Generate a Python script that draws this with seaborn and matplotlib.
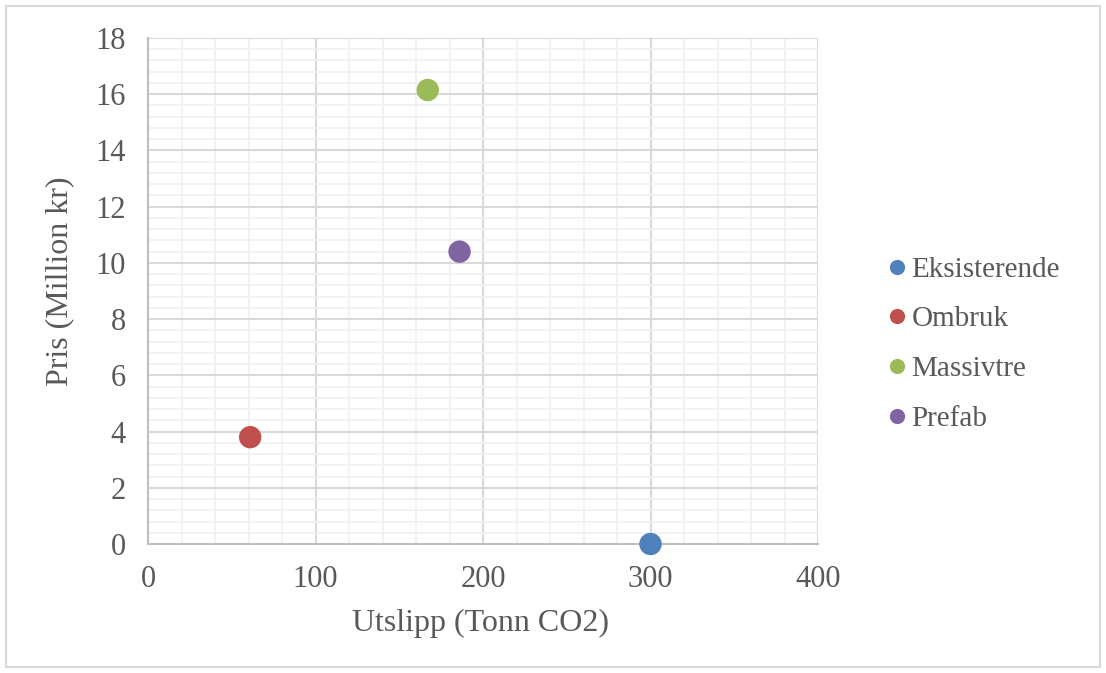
import pandas as pd
import numpy as np
import matplotlib
matplotlib.use("Agg")
import matplotlib.pyplot as plt
from matplotlib.patches import Rectangle
from matplotlib.ticker import MultipleLocator
import seaborn as sns

# %%
# data
serier = ["Eksisterende", "Ombruk", "Massivtre", "Prefab"]
utslipp = [300, 61, 167, 186]        # Tonn CO2
pris = [0.0, 3.8, 16.15, 10.4]       # Million kr
farger = ["#4F81BD", "#C0504D", "#9BBB59", "#8064A2"]

df = pd.DataFrame({"serie": serier, "utslipp": utslipp, "pris": pris})

# %%
sns.set_style("white")
plt.rcParams["font.family"] = ["Liberation Serif", "DejaVu Serif"]
tekst = "#595959"

fig = plt.figure(figsize = (11.06, 6.73), dpi = 100)
ax = fig.add_axes([148 / 1106, 1 - 544 / 673, 670 / 1106, 506 / 673])

# outer chart border
fig.patches.append(Rectangle((6 / 1106, 6 / 673), 1094 / 1106, 661 / 673,
                             transform = fig.transFigure, fill = False,
                             edgecolor = "#D9D9D9", linewidth = 1.5))

sns.scatterplot(data = df, x = "utslipp", y = "pris", hue = "serie",
                hue_order = serier, palette = farger, s = 260,
                edgecolor = "none", ax = ax, zorder = 3, clip_on = False)

ax.set_xlim(0, 400)
ax.set_ylim(0, 18)
ax.xaxis.set_major_locator(MultipleLocator(100))
ax.xaxis.set_minor_locator(MultipleLocator(20))
ax.yaxis.set_major_locator(MultipleLocator(2))
ax.yaxis.set_minor_locator(MultipleLocator(0.4))
ax.grid(which = "major", color = "#D9D9D9", linewidth = 1.5)
ax.grid(which = "minor", color = "#F0F0F0", linewidth = 1.2)
ax.set_axisbelow(True)

for side in ["top", "right"]:
    ax.spines[side].set_visible(False)
for side in ["left", "bottom"]:
    ax.spines[side].set_color("#BFBFBF")
    ax.spines[side].set_linewidth(1.5)

ax.tick_params(which = "major", direction = "out", length = 6, width = 1.3,
               color = "#BFBFBF", labelsize = 22, labelcolor = tekst)
ax.tick_params(axis = "y", which = "major", pad = 10)
ax.tick_params(axis = "x", which = "major", pad = 9)
ax.tick_params(which = "minor", length = 0)

ax.set_xlabel("Utslipp (Tonn CO2)", fontsize = 23, color = tekst)
ax.set_ylabel("Pris (Million kr)", fontsize = 23, color = tekst)
ax.xaxis.set_label_coords(0.496, -0.128)
ax.yaxis.set_label_coords(-0.11, 0.52)

ax.legend(loc = "center left", bbox_to_anchor = (1.057, 0.395), frameon = False,
          fontsize = 21, labelcolor = tekst, handletextpad = 0.0,
          handlelength = 1.0, labelspacing = 0.8, markerscale = 0.68)

fig.savefig("out.png", dpi = 100)
